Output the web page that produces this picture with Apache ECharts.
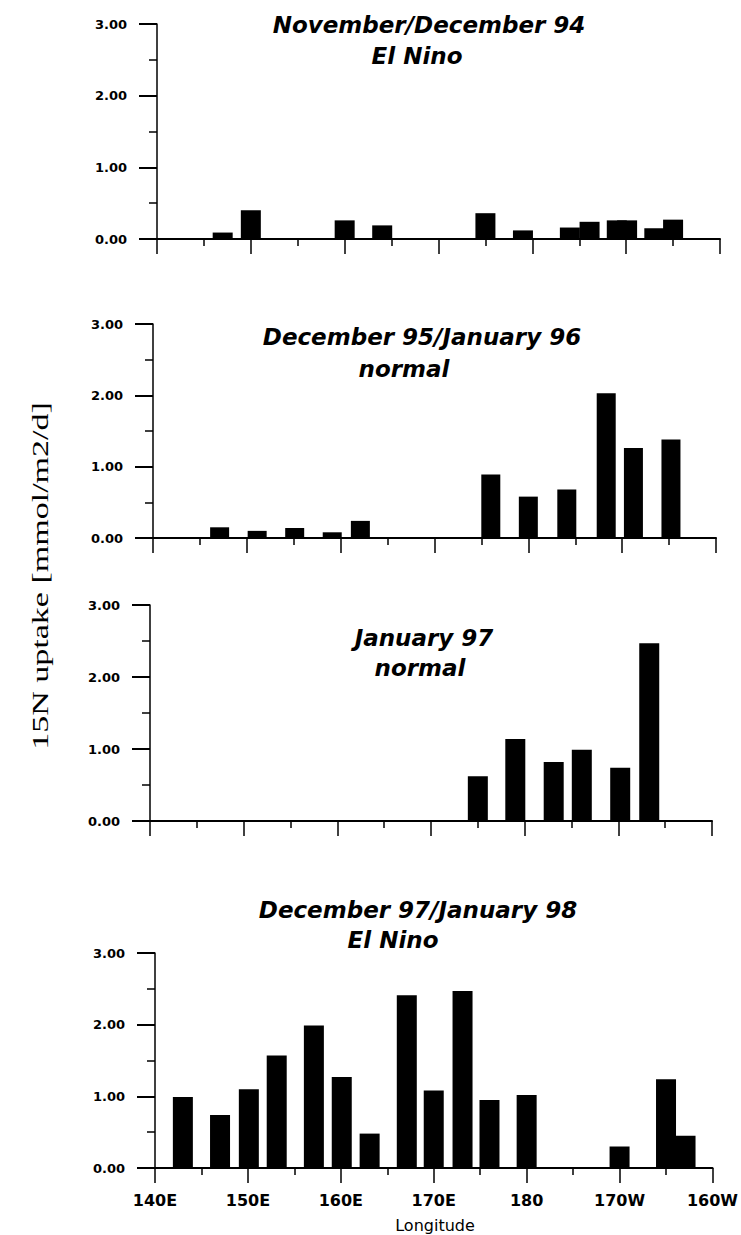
<!DOCTYPE html>
<html>
<head>
<meta charset="utf-8">
<script src="https://cdn.jsdelivr.net/npm/echarts/dist/echarts.min.js"></script>
<style>
html,body{margin:0;padding:0;background:#fff;}
#chart{width:741px;height:1235px;}
</style>
</head>
<body>
<div id="chart"></div>
<script>
// ---- data ----
const longitudeTicks = [140, 150, 160, 170, 180, 190, 200];
const longitudeLabels = ['140E', '150E', '160E', '170E', '180', '170W', '160W'];

const titlesLine1 = ['November/December 94', 'December 95/January 96', 'January 97', 'December 97/January 98'];
const titlesLine2 = ['El Nino', 'normal', 'normal', 'El Nino'];

const p1Lon = [147, 150, 160, 164, 175, 179, 184, 186.1, 189, 190.1, 193, 195];
const p1Val = [0.09, 0.40, 0.26, 0.19, 0.36, 0.12, 0.16, 0.24, 0.26, 0.26, 0.15, 0.27];

const p2Lon = [147.1, 151.1, 155.1, 159.1, 162.1, 176, 180, 184.1, 188.3, 191.2, 195.2];
const p2Val = [0.15, 0.10, 0.14, 0.08, 0.24, 0.89, 0.58, 0.68, 2.03, 1.26, 1.38];

const p3Lon = [175, 179, 183.1, 186.1, 190.2, 193.3];
const p3Val = [0.62, 1.14, 0.82, 0.99, 0.74, 2.47];

const p4Lon = [143, 147, 150.1, 153.1, 157.1, 160.1, 163.1, 167.1, 170, 173.1, 176, 180, 190, 195, 197.1];
const p4Val = [0.99, 0.74, 1.10, 1.57, 1.99, 1.27, 0.48, 2.41, 1.08, 2.47, 0.95, 1.02, 0.30, 1.24, 0.45];

const yAxisTitle = '15N uptake [mmol/m2/d]';
const xAxisTitle = 'Longitude';

// ---- layout ----
const panels = [
  {lon: p1Lon, val: p1Val, grid: {left: 157, top: 24, width: 563, height: 215}, bw: 20,
   t1: [429, 25], t2: [417, 56]},
  {lon: p2Lon, val: p2Val, grid: {left: 153, top: 324, width: 563, height: 214}, bw: 19,
   t1: [422, 337], t2: [404, 369]},
  {lon: p3Lon, val: p3Val, grid: {left: 150, top: 605, width: 562, height: 216}, bw: 20,
   t1: [424, 638], t2: [420, 668]},
  {lon: p4Lon, val: p4Val, grid: {left: 155, top: 953, width: 563, height: 215}, bw: 20,
   t1: [418, 910], t2: [393, 940]}
];

const black = '#000';
const grids = [], xAxes = [], yAxes = [], series = [], graphics = [];

panels.forEach((p, i) => {
  grids.push(Object.assign({containLabel: false}, p.grid));
  const isLast = i === panels.length - 1;
  xAxes.push({
    type: 'value', gridIndex: i, min: 140, max: 200, interval: 10,
    axisLine: {show: true, onZero: false, lineStyle: {color: black, width: 2}},
    axisTick: {show: true, inside: false, length: 15, lineStyle: {color: black, width: 1.5}},
    minorTick: {show: true, splitNumber: 2, length: 7, lineStyle: {color: black, width: 1.5}},
    splitLine: {show: false},
    axisLabel: {
      show: isLast, margin: 24, color: black,
      fontFamily: 'DejaVu Sans', fontWeight: 'bold', fontSize: 16,
      formatter: v => { const k = longitudeTicks.indexOf(v); return k >= 0 ? longitudeLabels[k] : ''; }
    }
  });
  yAxes.push({
    type: 'value', gridIndex: i, min: 0, max: 3, interval: 1,
    axisLine: {show: true, lineStyle: {color: black, width: 1.5}},
    axisTick: {show: true, inside: false, length: 18, lineStyle: {color: black, width: 2}},
    minorTick: {show: true, splitNumber: 2, length: 8, lineStyle: {color: black, width: 1.5}},
    splitLine: {show: false},
    axisLabel: {
      margin: 30, color: black, fontFamily: 'DejaVu Sans', fontWeight: 'bold', fontSize: 13,
      formatter: v => v.toFixed(2)
    }
  });
  series.push({
    type: 'bar', xAxisIndex: i, yAxisIndex: i, barWidth: p.bw,
    itemStyle: {color: black},
    data: p.lon.map((x, k) => [x, p.val[k]]),
    animation: false
  });
  graphics.push({
    type: 'text', x: p.t1[0], y: p.t1[1],
    style: {text: titlesLine1[i], fill: black, fontFamily: 'DejaVu Sans', fontWeight: 'bold',
            fontStyle: 'italic', fontSize: 23, textAlign: 'center', textVerticalAlign: 'middle'}
  });
  graphics.push({
    type: 'text', x: p.t2[0], y: p.t2[1],
    style: {text: titlesLine2[i], fill: black, fontFamily: 'DejaVu Sans', fontWeight: 'bold',
            fontStyle: 'italic', fontSize: 23, textAlign: 'center', textVerticalAlign: 'middle'}
  });
});

graphics.push({
  type: 'text', x: 40, y: 576, rotation: Math.PI / 2, scaleX: 1.48,
  style: {text: yAxisTitle, fill: black, fontFamily: 'Liberation Serif', fontSize: 23,
          textAlign: 'center', textVerticalAlign: 'middle'}
});
graphics.push({
  type: 'text', x: 435, y: 1225,
  style: {text: xAxisTitle, fill: black, fontFamily: 'DejaVu Sans', fontSize: 16,
          textAlign: 'center', textVerticalAlign: 'middle'}
});

const chart = echarts.init(document.getElementById('chart'), null, {renderer: 'svg', width: 741, height: 1235});
chart.setOption({
  backgroundColor: '#fff',
  animation: false,
  grid: grids,
  xAxis: xAxes,
  yAxis: yAxes,
  series: series,
  graphic: graphics
});
</script>
</body>
</html>
